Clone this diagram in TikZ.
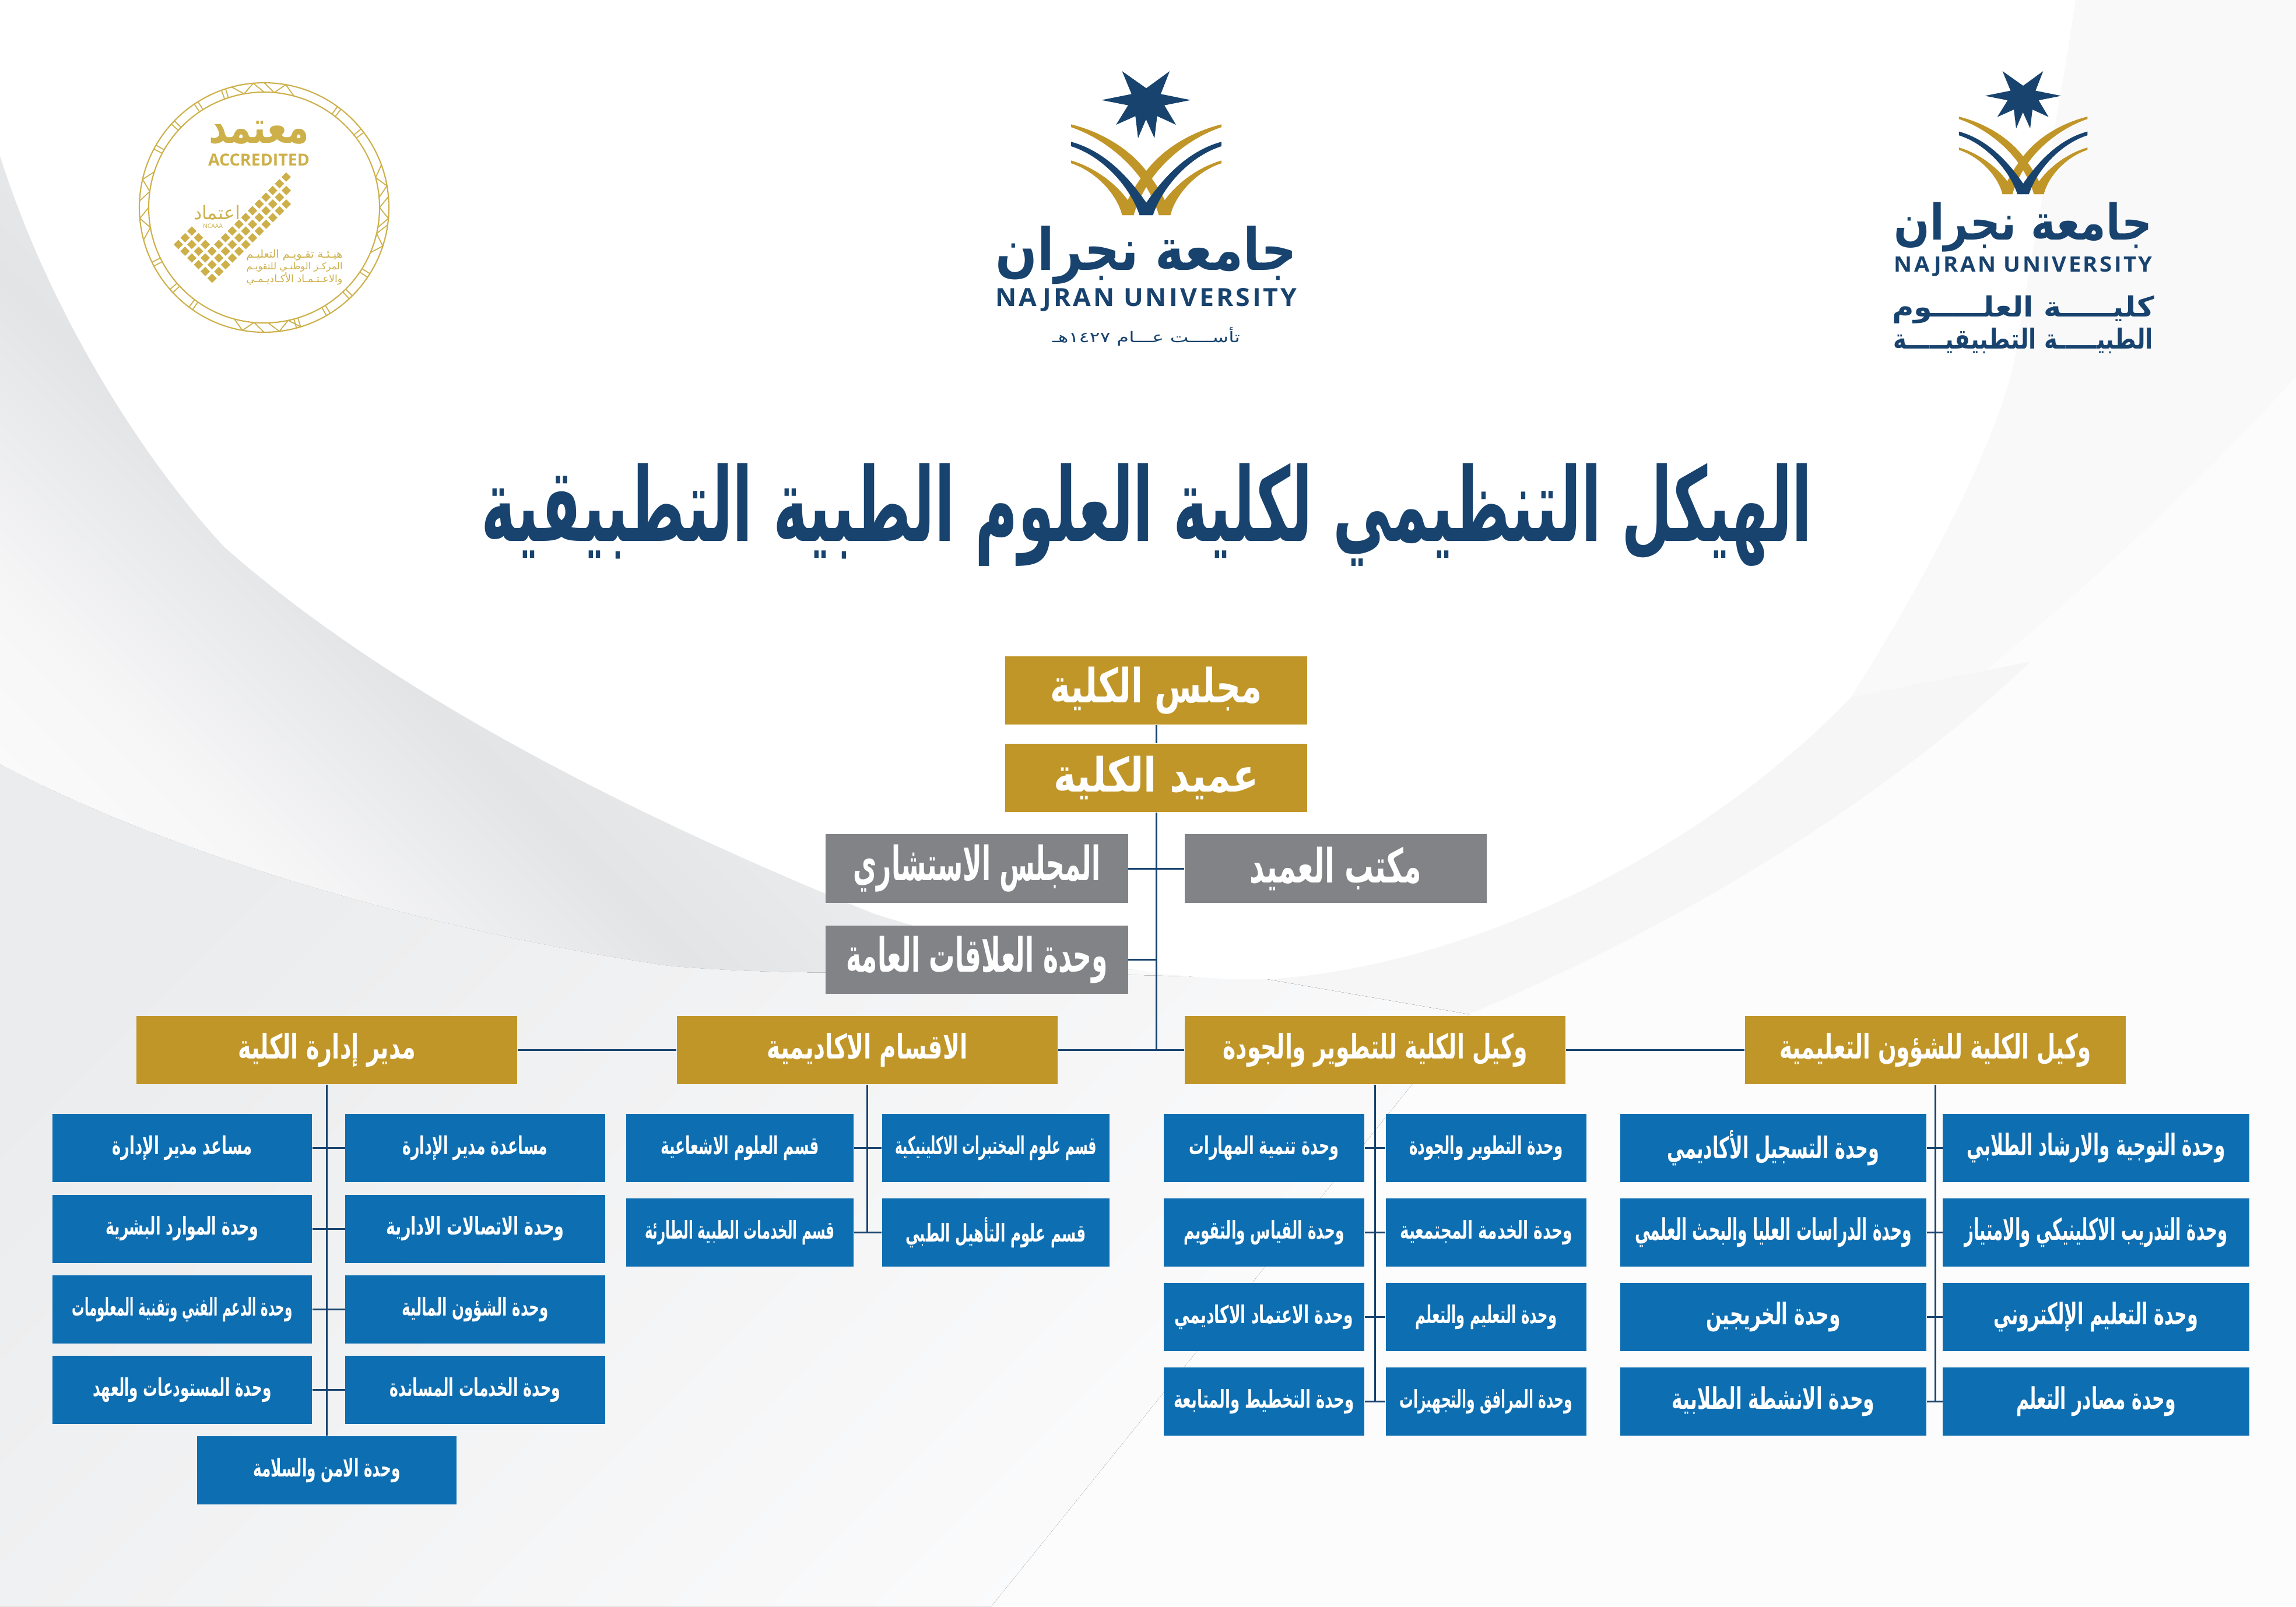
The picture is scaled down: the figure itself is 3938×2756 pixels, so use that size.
\documentclass[tikz,border=0pt]{standalone}
\usepackage{fontspec}
\usepackage{graphicx}
\usetikzlibrary{arrows.meta, positioning, calc}
\TeXXeTstate=1
\newfontfamily\arabicfont[Script=Arabic]{DejaVu Sans}
\setmainfont{Open Sans}
\definecolor{navy}{RGB}{24, 67, 110}
\definecolor{gold}{RGB}{193, 150, 40}
\definecolor{unitblue}{RGB}{14, 110, 178}
\definecolor{office}{RGB}{130, 131, 134}
\definecolor{badge}{RGB}{205, 176, 74}
\definecolor{shadeA}{RGB}{251, 251, 252}
\definecolor{shadeB}{RGB}{247, 247, 248}
\definecolor{shadeC}{RGB}{227, 228, 230}
\definecolor{shadeD}{RGB}{235, 236, 237}
\definecolor{outerbg}{RGB}{249, 249, 250}
\definecolor{bandbg}{RGB}{246, 246, 247}
\definecolor{farbg}{RGB}{252, 252, 253}
\definecolor{lowA}{RGB}{235, 236, 237}
\definecolor{lowB}{RGB}{248, 248, 249}
\pgfdeclareverticalshading{swoosh}{100bp}{color(0bp)=(shadeA); color(20bp)=(shadeA); color(28bp)=(shadeB);
    color(40bp)=(shadeC); color(50bp)=(shadeD); color(100bp)=(shadeD)}
\newdimen\pxdim \pxdim=0.01cm
% box labels are narrowed to the measured width of the printed line
\newcommand{\artext}[2]{\resizebox{#1\pxdim}{\height}{#2}}
\newcommand{\logotext}[3]{\resizebox*{#1\pxdim}{#2\pxdim}{#3}}

\tikzset{
    logomark/.pic={
        \fill[navy] (-100,-147) -- (0,-62) -- (97,-147) -- (60,-33) -- (184,-3) -- (75,23) -- (123,120)
            -- (45,77) -- (34,187) -- (-1,93) -- (-34,187) -- (-45,77) -- (-125,120) -- (-75,23)
            -- (-185,-3) -- (-61,-33) -- cycle;
        \foreach \s in {1,-1} {
            \fill[gold, xscale=\s] (-311,118) .. controls (-173,160) and (-63,250) .. (0,350)
                .. controls (45,420) and (85,500) .. (100,570) -- (52,570)
                .. controls (40,520) and (20,470) .. (0,430)
                .. controls (-70,290) and (-193,180) .. (-311,132) -- cycle;
            \fill[gold, xscale=\s] (-311,298) .. controls (-193,340) and (-103,440) .. (-63,520)
                -- (-51,570) -- (-100,570) .. controls (-123,460) and (-213,350) .. (-311,312) -- cycle;
        }
        \foreach \s in {1,-1}
            \fill[navy, xscale=\s] (-311,205) .. controls (-173,250) and (-73,380) .. (0,508)
                -- (27,570) -- (-28,570) .. controls (-63,440) and (-173,280) .. (-311,227) -- cycle;
    }
}

\begin{document}
\begin{tikzpicture}[x=0.01cm, y=-0.01cm, inner sep=0pt,
        headbox/.style={rectangle, fill=gold, text=white, minimum width=5.18cm, minimum height=1.17cm,
                        font=\arabicfont\bfseries\fontsize{23}{26}\selectfont},
        officebox/.style={headbox, fill=office},
        deputybox/.style={headbox, minimum width=6.53cm, font=\arabicfont\bfseries\fontsize{16.5}{20}\selectfont},
        unitbox/.style={rectangle, fill=unitblue, text=white, minimum height=1.17cm,
                        font=\arabicfont\bfseries\fontsize{12}{14}\selectfont},
        adminunit/.style={unitbox, minimum width=4.45cm},
        deptunit/.style={unitbox, minimum width=3.9cm},
        qualunit/.style={unitbox, minimum width=3.44cm},
        eduunit/.style={unitbox, minimum width=5.25cm, font=\arabicfont\bfseries\fontsize{14.5}{17}\selectfont},
        link/.style={navy, line width=0.85pt},
        logoname/.style={navy, font=\arabicfont\bfseries},
        logoline/.style={navy, font=\arabicfont},
        logolatin/.style={navy, font=\bfseries\addfontfeature{LetterSpace=9}}
    ]
    \clip (0,0) rectangle (3938,2756);
    % background swooshes
    \fill[outerbg] (0,0) rectangle (3938,2756);
    \fill[farbg] (2519,1740) .. controls (2900,1560) and (3500,1130) .. (3938,646) -- (3938,2756) -- (1700,2756) -- cycle;
    \fill[bandbg] (2173,1680) .. controls (2500,1660) and (2900,1480) .. (3174,1197) -- (3483,1135)
        .. controls (3200,1400) and (2850,1600) .. (2519,1740) -- cycle;
    \fill[top color=lowA, middle color=lowB, bottom color=farbg, shading angle=45] (0,1311) .. controls (300,1470) and (750,1600) .. (1148,1657)
        .. controls (1400,1680) and (1700,1660) .. (2173,1680) -- (2519,1740) -- (1700,2756) -- (0,2756) -- cycle;
    \fill[white] (0,0) -- (0,268) .. controls (80,520) and (230,770) .. (383,937)
        .. controls (600,1130) and (950,1345) .. (1500,1568) .. controls (1650,1615) and (1800,1650) .. (1950,1664)
        .. controls (2050,1680) and (2120,1680) .. (2173,1680) .. controls (2500,1660) and (2900,1480) .. (3174,1197)
        .. controls (3330,950) and (3440,720) .. (3458,600) .. controls (3490,400) and (3530,200) .. (3560,0) -- cycle;
    \shade[shading=swoosh, shading angle=-45] (0,268) .. controls (80,520) and (230,770) .. (383,937)
        .. controls (600,1130) and (950,1345) .. (1500,1568) .. controls (1650,1615) and (1800,1650) .. (1950,1664)
        .. controls (1700,1660) and (1400,1680) .. (1148,1657) .. controls (750,1600) and (300,1470) .. (0,1311) -- cycle;

    % logos
    \pic[xscale=.4145, yscale=.3444] at (1966,172.7) {logomark};
    \node[logoname] (nameC) at (1966,438) {\logotext{517}{100}{\beginR جامعة نجران\endR}};
    \node[logolatin] (uniC) at (1966,514) {\logotext{517}{40}{NAJRAN UNIVERSITY}};
    \node[logoline] (yearC) at (1966,578) {\logotext{322}{32}{\beginR تأســــت عـــام ١٤٢٧هـ\endR}};

    \pic[xscale=.3544, yscale=.2945] at (3470,165.3) {logomark};
    \node[logoname] (nameR) at (3470,390) {\logotext{443}{85}{\beginR جامعة نجران\endR}};
    \node[logolatin] (uniR) at (3470,457) {\logotext{443}{34}{NAJRAN UNIVERSITY}};
    \node[logoname] (facR1) at (3470,531) {\logotext{450}{48}{\beginR كليـــــة العلـــــوم\endR}};
    \node[logoname] (facR2) at (3470,585) {\logotext{446}{44}{\beginR الطبيـــــة التطبيقيـــــة\endR}};

    % badge
    \draw[badge, line width=0.6pt] (453,356) circle (214) (453,356) circle (198);
    \begin{scope}[shift={(453,356)}, yscale=-1, badge, line width=0.5pt]
        \foreach \a in {109,123,137,151,53,38,-33,-46,-59,-74,234,222,207}
            \draw (\a+1:198) -- (\a+1:214) (\a-1:198) -- (\a-1:214);
        \foreach \a in {80,95,167,185,260,277,10,-5,-18} {
            \draw (\a-5:198) -- (\a:214) -- (\a+5:198) -- (\a+10:214);
        }
    \end{scope}
    \foreach \j/\n in {0/11,1/12,2/13,3/2,4/2,5/2}
        \foreach \i in {0,...,\n}
            \fill[badge] ({363.7+11.57*(\i-\j)-8},{477.3-11.57*(\i+\j)}) -- ++(8,-8) -- ++(8,8) -- ++(-8,8) -- cycle;
    \node[text=badge, font=\arabicfont\bfseries] (accAr) at (444,228) {\logotext{172}{40}{\beginR معتمد\endR}};
    \node[text=badge, font=\bfseries] (acc) at (444,274) {\resizebox{174\pxdim}{!}{ACCREDITED}};
    \node[text=badge, font=\arabicfont] (ncaaa) at (372,365) {\resizebox{80\pxdim}{!}{\beginR اعتماد\endR}};
    \node[text=badge] (ncaaaEn) at (365,388) {\resizebox{34\pxdim}{!}{NCAAA}};
    \node[text=badge, font=\arabicfont] (bodyA) at (505,438) {\resizebox{165\pxdim}{!}{\beginR هيـئـة تقـويـم التعليـم\endR}};
    \node[text=badge, font=\arabicfont] (bodyB) at (505,458) {\resizebox{165\pxdim}{!}{\beginR المركـز الوطنـي للتقويـم\endR}};
    \node[text=badge, font=\arabicfont] (bodyC) at (505,478) {\resizebox{165\pxdim}{!}{\beginR والاعـتـمـاد الأكـاديـمـي\endR}};

    % title
    \node[navy, font=\arabicfont\bfseries\fontsize{50}{60}\selectfont] (title) at (1967,883)
        {\artext{2283}{\beginR الهيكل التنظيمي لكلية العلوم الطبية التطبيقية\endR}};

    % top of the chart
    \node[headbox] (majlis) at (1983,1184.5) {\artext{363}{\beginR مجلس الكلية\endR}};
    \node[headbox] (ameed) at (1983,1334.5) {\artext{351}{\beginR عميد الكلية\endR}};
    \node[officebox] (mustashari) at (1675.5,1490) {\artext{424}{\beginR المجلس الاستشاري\endR}};
    \node[officebox] (maktab) at (2291,1490) {\artext{295}{\beginR مكتب العميد\endR}};
    \node[officebox] (alaqat) at (1675.5,1646.5) {\artext{449}{\beginR وحدة العلاقات العامة\endR}};

    \node[deputybox] (mudir) at (560.5,1801.5) {\artext{305}{\beginR مدير إدارة الكلية\endR}};
    \node[deputybox] (aqsam) at (1487.5,1801.5) {\artext{344}{\beginR الاقسام الاكاديمية\endR}};
    \node[deputybox] (tatweer) at (2358.5,1801.5) {\artext{522}{\beginR وكيل الكلية للتطوير والجودة\endR}};
    \node[deputybox] (shuoon) at (3319.5,1801.5) {\artext{535}{\beginR وكيل الكلية للشؤون التعليمية\endR}};

    % administration units
    \node[adminunit] (adm1l) at (312.5,1969.5) {\artext{240}{\beginR مساعد مدير الإدارة\endR}};
    \node[adminunit] (adm1r) at (815,1969.5) {\artext{249}{\beginR مساعدة مدير الإدارة\endR}};
    \node[adminunit] (adm2l) at (312.5,2108) {\artext{262}{\beginR وحدة الموارد البشرية\endR}};
    \node[adminunit] (adm2r) at (815,2108) {\artext{305}{\beginR وحدة الاتصالات الادارية\endR}};
    \node[adminunit] (adm3l) at (312.5,2246.5) {\artext{378}{\beginR وحدة الدعم الفني وتقنية المعلومات\endR}};
    \node[adminunit] (adm3r) at (815,2246.5) {\artext{251}{\beginR وحدة الشؤون المالية\endR}};
    \node[adminunit] (adm4l) at (312.5,2384.5) {\artext{306}{\beginR وحدة المستودعات والعهد\endR}};
    \node[adminunit] (adm4r) at (815,2384.5) {\artext{293}{\beginR وحدة الخدمات المساندة\endR}};
    \node[adminunit] (adm5) at (560.5,2522.5) {\artext{252}{\beginR وحدة الامن والسلامة\endR}};

    % departments
    \node[deptunit] (dep1l) at (1269,1969.5) {\artext{272}{\beginR قسم العلوم الاشعاعية\endR}};
    \node[deptunit] (dep1r) at (1708,1969.5) {\artext{346}{\beginR قسم علوم المختبرات الاكلينيكية\endR}};
    \node[deptunit] (dep2l) at (1269,2114.5) {\artext{326}{\beginR قسم الخدمات الطبية الطارئة\endR}};
    \node[deptunit] (dep2r) at (1708,2114.5) {\artext{310}{\beginR قسم علوم التأهيل الطبي\endR}};

    % development and quality units
    \node[qualunit] (qua1l) at (2168,1969.5) {\artext{257}{\beginR وحدة تنمية المهارات\endR}};
    \node[qualunit] (qua1r) at (2549,1969.5) {\artext{264}{\beginR وحدة التطوير والجودة\endR}};
    \node[qualunit] (qua2l) at (2168,2114.5) {\artext{275}{\beginR وحدة القياس والتقويم\endR}};
    \node[qualunit] (qua2r) at (2549,2114.5) {\artext{296}{\beginR وحدة الخدمة المجتمعية\endR}};
    \node[qualunit] (qua3l) at (2168,2259.5) {\artext{307}{\beginR وحدة الاعتماد الاكاديمي\endR}};
    \node[qualunit] (qua3r) at (2549,2259.5) {\artext{243}{\beginR وحدة التعليم والتعلم\endR}};
    \node[qualunit] (qua4l) at (2168,2404.5) {\artext{310}{\beginR وحدة التخطيط والمتابعة\endR}};
    \node[qualunit] (qua4r) at (2549,2404.5) {\artext{297}{\beginR وحدة المرافق والتجهيزات\endR}};

    % educational affairs units
    \node[eduunit] (edu1l) at (3041.5,1969.5) {\artext{364}{\beginR وحدة التسجيل الأكاديمي\endR}};
    \node[eduunit] (edu1r) at (3595,1969.5) {\artext{443}{\beginR وحدة التوجية والارشاد الطلابي\endR}};
    \node[eduunit] (edu2l) at (3041.5,2114.5) {\artext{475}{\beginR وحدة الدراسات العليا والبحث العلمي\endR}};
    \node[eduunit] (edu2r) at (3595,2114.5) {\artext{451}{\beginR وحدة التدريب الاكلينيكي والامتياز\endR}};
    \node[eduunit] (edu3l) at (3041.5,2259.5) {\artext{230}{\beginR وحدة الخريجين\endR}};
    \node[eduunit] (edu3r) at (3595,2259.5) {\artext{351}{\beginR وحدة التعليم الإلكتروني\endR}};
    \node[eduunit] (edu4l) at (3041.5,2404.5) {\artext{348}{\beginR وحدة الانشطة الطلابية\endR}};
    \node[eduunit] (edu4r) at (3595,2404.5) {\artext{274}{\beginR وحدة مصادر التعلم\endR}};

    % connectors
    \coordinate (hub) at (ameed |- aqsam);
    \draw[link] (majlis) -- (ameed);
    \draw[link] (ameed) -- (hub);
    \draw[link] (mustashari) -- (maktab);
    \draw[link] (alaqat) -- (alaqat -| ameed);
    \draw[link] (mudir) -- (aqsam);
    \draw[link] (aqsam) -- (tatweer);
    \draw[link] (tatweer) -- (shuoon);
    \draw[link] (mudir) -- (adm5);
    \draw[link] (aqsam) -- (aqsam |- dep2r);
    \draw[link] (tatweer) -- (tatweer |- qua4r);
    \draw[link] (shuoon) -- (shuoon |- edu4r);
    \foreach \n in {adm1,adm2,adm3,adm4,dep1,dep2,qua1,qua2,qua3,qua4,edu1,edu2,edu3,edu4}
        \draw[link] (\n l) -- (\n r);
\end{tikzpicture}
\end{document}
